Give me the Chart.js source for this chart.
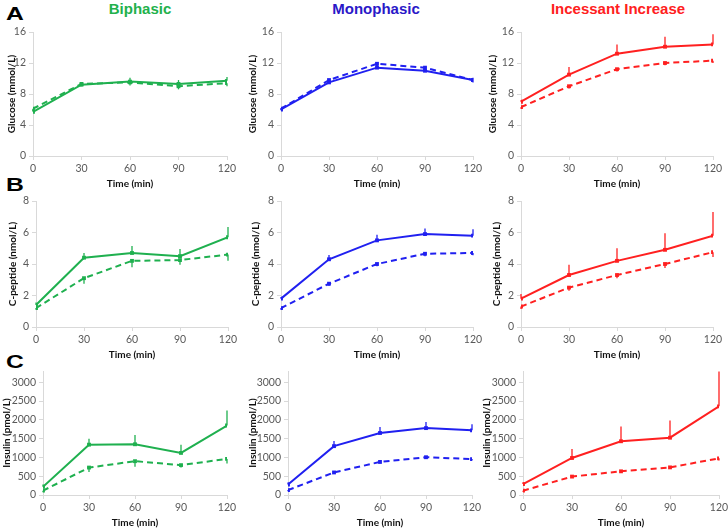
<!DOCTYPE html>
<html>
<head>
<meta charset="utf-8">
<script src="https://cdn.jsdelivr.net/npm/chart.js@4.4.1/dist/chart.umd.min.js"></script>
<style>
  body { margin: 0; background: #fff; width: 728px; height: 529px; position: relative; overflow: hidden; font-family: 'Liberation Sans', Arial, sans-serif; }
  .panel { position: absolute; }
  .letter { position: absolute; font-weight: bold; font-size: 19px; line-height: 1; color: #000; transform: scaleX(1.3); transform-origin: left top; }
  .title { position: absolute; font-weight: bold; font-size: 15px; line-height: 1; transform: translateX(-50%); white-space: nowrap; }
</style>
</head>
<body>
<div class="letter" style="left:6px;top:4px">A</div>
<div class="letter" style="left:6px;top:175px">B</div>
<div class="letter" style="left:6px;top:352px">C</div>
<div id="titles"></div>
<script>
// time points (min) and group names
const times = [0, 30, 60, 90, 120];
const groups = ['Biphasic', 'Monophasic', 'Incessant Increase'];
const lineColors = ['#1fb04f', '#2020f0', '#ff2020'];
const titleColors = ['#22b14c', '#2a18c8', '#ff2020'];

// y tick labels per row
const gluTicks = [0, 4, 8, 12, 16];
const cpTicks = [0, 2, 4, 6, 8];
const insTicks = [0, 500, 1000, 1500, 2000, 2500, 3000];

// glucose (mmol/L): solid = first curve, dashed = second curve, one row per group
const gluSolid = [[5.7, 9.2, 9.6, 9.3, 9.7], [6.0, 9.5, 11.4, 11.0, 9.8], [7.0, 10.5, 13.2, 14.1, 14.4]];
const gluSolidErr = [[0.3, 0.3, 0.5, 0.5, 0.5], [0.2, 0.3, 0.4, 0.4, 0.3], [0.2, 1.0, 1.2, 1.3, 1.3]];
const gluDashed = [[6.1, 9.3, 9.5, 9.0, 9.4], [6.1, 9.8, 11.9, 11.4, 9.8], [6.3, 9.0, 11.2, 12.0, 12.3]];
const gluDashedErr = [[0.3, 0.3, 0.4, 0.4, 0.4], [0.2, 0.3, 0.3, 0.3, 0.3], [0.2, 0.3, 0.3, 0.3, 0.3]];

// C-peptide (nmol/L)
const cpSolid = [[1.4, 4.4, 4.7, 4.5, 5.7], [1.8, 4.3, 5.5, 5.9, 5.8], [1.8, 3.3, 4.2, 4.9, 5.8]];
const cpSolidErr = [[0.15, 0.3, 0.45, 0.45, 0.65], [0.1, 0.27, 0.35, 0.35, 0.4], [0.3, 0.65, 0.8, 1.05, 1.5]];
const cpDashed = [[1.2, 3.1, 4.2, 4.25, 4.6], [1.2, 2.75, 4.0, 4.65, 4.7], [1.3, 2.5, 3.3, 4.0, 4.75]];
const cpDashedErr = [[0.1, 0.35, 0.4, 0.3, 0.4], [0.1, 0.15, 0.15, 0.15, 0.15], [0.15, 0.2, 0.2, 0.25, 0.3]];

// insulin (pmol/L)
const insSolid = [[220, 1340, 1350, 1120, 1850], [280, 1300, 1650, 1780, 1720], [290, 985, 1430, 1525, 2360]];
const insSolidErr = [[60, 160, 250, 220, 400], [50, 140, 160, 160, 160], [50, 240, 390, 460, 930]];
const insDashed = [[115, 730, 900, 795, 960], [130, 600, 880, 1005, 955], [115, 490, 630, 735, 975]];
const insDashedErr = [[40, 115, 150, 60, 125], [30, 40, 40, 40, 40], [30, 40, 40, 40, 60]];

// one entry per row of panels
const rows = [
  { label: 'Glucose (mmol/L)', max: 16, ticks: gluTicks, solid: gluSolid, solidErr: gluSolidErr, dashed: gluDashed, dashedErr: gluDashedErr },
  { label: 'C-peptide (nmol/L)', max: 8, ticks: cpTicks, solid: cpSolid, solidErr: cpSolidErr, dashed: cpDashed, dashedErr: cpDashedErr },
  { label: 'Insulin (pmol/L)', max: 3300, ticks: insTicks, solid: insSolid, solidErr: insSolidErr, dashed: insDashed, dashedErr: insDashedErr }
];

// layout: plot area of each panel in page pixels
const rowLayout = [
  { canvasTop: 20, canvasBottom: 190, top: 32, bottom: 156 },
  { canvasTop: 190, canvasBottom: 361, top: 201, bottom: 327 },
  { canvasTop: 360, canvasBottom: 529, top: 371, bottom: 495 }
];
const colLeft = [0, 240, 480];
const plotX = [
  [[33, 227], [281, 473], [521, 713]],
  [[36, 228], [281, 473], [521, 713]],
  [[43, 227], [288, 472], [523, 719]]
];
const yTitleX = [[12, 13, 13], [13, 16, 17], [7, 13, 7]];

// titles
const titlePos = [140, 376, 618];
groups.forEach((g, i) => {
  const d = document.createElement('div');
  d.className = 'title';
  d.style.left = titlePos[i] + 'px';
  d.style.top = '1px';
  d.style.color = titleColors[i];
  d.textContent = g;
  document.getElementById('titles').appendChild(d);
});

// draws SEM bars: solid curve upward, dashed curve downward
const errorBars = {
  id: 'errorBars',
  afterDatasetsDraw(chart) {
    const ctx = chart.ctx;
    const ys = chart.scales.y;
    chart.data.datasets.forEach((ds, di) => {
      const meta = chart.getDatasetMeta(di);
      ctx.save();
      ctx.strokeStyle = ds.borderColor;
      ctx.lineWidth = 1.3;
      meta.data.forEach((pt, i) => {
        const y2 = ys.getPixelForValue(ds.data[i].y + ds.errDir * ds.errors[i]);
        ctx.beginPath();
        ctx.moveTo(pt.x, pt.y);
        ctx.lineTo(pt.x, y2);
        ctx.stroke();
      });
      ctx.restore();
    });
  }
};

const tickFont = { family: 'Lato, "Open Sans", sans-serif', size: 10.5 };
const titleFont = { family: 'Lato, "Open Sans", sans-serif', size: 10, weight: 'bold', lineHeight: 1.2 };
const axisGrey = '#d9d9d9';

function makePanel(r, c) {
  const row = rows[r];
  const lay = rowLayout[r];
  const [left, right] = plotX[r][c];
  const canvasLeft = colLeft[c];
  const width = right - canvasLeft + 22;
  const height = lay.canvasBottom - lay.canvasTop;

  const div = document.createElement('div');
  div.className = 'panel';
  div.style.left = canvasLeft + 'px';
  div.style.top = lay.canvasTop + 'px';
  div.style.width = width + 'px';
  div.style.height = height + 'px';
  const canvas = document.createElement('canvas');
  canvas.width = width;
  canvas.height = height;
  div.appendChild(canvas);
  document.body.appendChild(div);

  const color = lineColors[c];
  const toPoints = vals => times.map((t, i) => ({ x: t, y: vals[i] }));

  new Chart(canvas, {
    type: 'line',
    data: {
      datasets: [
        {
          data: toPoints(row.dashed[c]), errors: row.dashedErr[c], errDir: -1,
          borderColor: color, backgroundColor: color, borderWidth: 2, borderDash: [6, 4],
          pointRadius: 1.3, pointStyle: 'rect', fill: false, tension: 0
        },
        {
          data: toPoints(row.solid[c]), errors: row.solidErr[c], errDir: 1,
          borderColor: color, backgroundColor: color, borderWidth: 2,
          pointRadius: 1.3, pointStyle: 'rect', fill: false, tension: 0
        }
      ]
    },
    options: {
      responsive: false,
      animation: false,
      layout: { padding: { top: lay.top - lay.canvasTop, right: width - (right - canvasLeft), left: 0, bottom: 0 } },
      plugins: { legend: { display: false }, tooltip: { enabled: false } },
      scales: {
        x: {
          type: 'linear', min: 0, max: 120,
          ticks: { stepSize: 30, color: '#595959', font: tickFont, padding: 2, maxRotation: 0 },
          afterBuildTicks(s) { s.ticks = times.map(v => ({ value: v })); },
          grid: { drawOnChartArea: false, tickLength: 4, color: axisGrey },
          border: { color: axisGrey },
          title: { display: true, text: 'Time (min)', color: '#111', font: titleFont, padding: 0 },
          afterFit(s) { s.height = lay.canvasBottom - lay.bottom; }
        },
        y: {
          min: 0, max: row.max,
          ticks: { autoSkip: false, color: '#595959', font: tickFont, padding: 3, callback: v => String(v) },
          afterBuildTicks(s) { s.ticks = row.ticks.map(v => ({ value: v })); },
          grid: { drawOnChartArea: false, tickLength: 4, color: axisGrey },
          border: { color: axisGrey },
          title: { display: true, text: row.label, color: '#111', font: titleFont, padding: { top: yTitleX[r][c] - 6, bottom: 0 } },
          afterFit(s) { s.width = left - canvasLeft; }
        }
      }
    },
    plugins: [errorBars]
  });
}

for (let r = 0; r < 3; r++) {
  for (let c = 0; c < 3; c++) makePanel(r, c);
}
</script>
</body>
</html>
